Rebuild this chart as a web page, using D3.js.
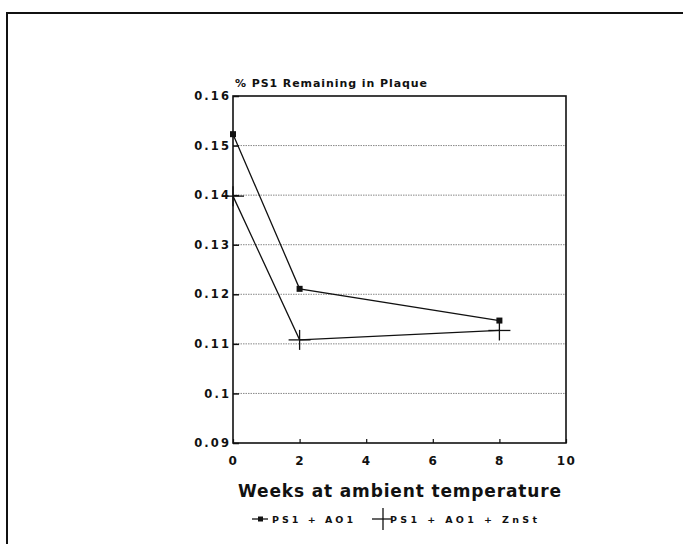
<!DOCTYPE html>
<html>
<head>
<meta charset="utf-8">
<script src="https://cdn.jsdelivr.net/npm/d3@7"></script>
<style>
  html, body { margin: 0; padding: 0; background: #fff; }
  svg { display: block; }
  text { font-family: "DejaVu Sans", "Liberation Sans", Arial, sans-serif; font-weight: bold; fill: #111; }
</style>
</head>
<body>
<svg id="chart" width="683" height="544"></svg>
<script>
// ---- data ----
const weeks = [0, 2, 8];
const seriesNames = ['PS1 + AO1', 'PS1 + AO1 + ZnSt'];
const ps1Ao1 = [0.1523, 0.1211, 0.1147];
const ps1Ao1ZnSt = [0.1398, 0.1108, 0.1127];
const xTicks = [0, 2, 4, 6, 8, 10];
const yTicks = [0.09, 0.1, 0.11, 0.12, 0.13, 0.14, 0.15, 0.16];

const svg = d3.select('#chart');
const m = { left: 233, right: 566, top: 96, bottom: 443 };

const x = d3.scaleLinear().domain([0, 10]).range([m.left, m.right]);
const y = d3.scaleLinear().domain([0.09, 0.16]).range([m.bottom, m.top]);

// outer frame (page scan border)
svg.append('path')
  .attr('d', 'M7,544 L7,13 L683,13')
  .attr('fill', 'none').attr('stroke', '#111').attr('stroke-width', 2);

// gridlines
svg.append('g')
  .selectAll('line')
  .data(yTicks.filter((t) => t > 0.095 && t < 0.155))
  .join('line')
  .attr('x1', m.left).attr('x2', m.right)
  .attr('y1', (d) => y(d)).attr('y2', (d) => y(d))
  .attr('stroke', '#888').attr('stroke-width', 1)
  .attr('stroke-dasharray', '1.5,1');

// y axis
const yAxis = svg.append('g')
  .attr('transform', `translate(${m.left},0)`)
  .call(d3.axisLeft(y).tickValues(yTicks).tickSize(-6).tickPadding(4)
    .tickFormat((d) => String(+d.toFixed(2))));
yAxis.select('.domain').remove();
yAxis.selectAll('line').attr('stroke', '#111').attr('stroke-width', 1.5);
yAxis.selectAll('text')
  .attr('font-size', 11.5).attr('letter-spacing', 2.1)
  .attr('fill', '#111').attr('dx', 2);

// x axis
const xAxis = svg.append('g')
  .attr('transform', `translate(0,${m.bottom})`)
  .call(d3.axisBottom(x).tickValues(xTicks).tickSize(-4).tickPadding(13));
xAxis.select('.domain').remove();
xAxis.selectAll('line').attr('stroke', '#111').attr('stroke-width', 1.2);
xAxis.selectAll('text')
  .attr('font-size', 12).attr('letter-spacing', 1.5).attr('fill', '#111');

// plot border
svg.append('rect')
  .attr('x', m.left).attr('y', m.top)
  .attr('width', m.right - m.left).attr('height', m.bottom - m.top)
  .attr('fill', 'none').attr('stroke', '#111').attr('stroke-width', 1.6);

// title
svg.append('text')
  .attr('x', 235).attr('y', 87)
  .attr('font-size', 11)
  .attr('textLength', 192).attr('lengthAdjust', 'spacing')
  .text('% PS1 Remaining in Plaque');

// x title
svg.append('text')
  .attr('x', 238).attr('y', 497)
  .attr('font-size', 17)
  .attr('textLength', 323).attr('lengthAdjust', 'spacing')
  .text('Weeks at ambient temperature');

// series lines
const line = d3.line().x((d, i) => x(weeks[i])).y((d) => y(d));
svg.append('path').datum(ps1Ao1).attr('d', line)
  .attr('fill', 'none').attr('stroke', '#111').attr('stroke-width', 1.3);
svg.append('path').datum(ps1Ao1ZnSt).attr('d', line)
  .attr('fill', 'none').attr('stroke', '#111').attr('stroke-width', 1.3);

// square markers
svg.append('g').selectAll('rect')
  .data(ps1Ao1)
  .join('rect')
  .attr('x', (d, i) => x(weeks[i]) - 3).attr('y', (d) => y(d) - 3)
  .attr('width', 6).attr('height', 6).attr('fill', '#111');

// cross markers
const cross = svg.append('g').selectAll('g')
  .data(ps1Ao1ZnSt)
  .join('g')
  .attr('transform', (d, i) => `translate(${x(weeks[i])},${y(d)})`);
cross.append('line').attr('x1', -11).attr('x2', 11)
  .attr('stroke', '#111').attr('stroke-width', 1.3);
cross.append('line').attr('y1', -10).attr('y2', 10)
  .attr('stroke', '#111').attr('stroke-width', 1.3);

// legend
const lg = svg.append('g');
lg.append('line').attr('x1', 252).attr('x2', 268).attr('y1', 519).attr('y2', 519)
  .attr('stroke', '#111').attr('stroke-width', 1.3);
lg.append('rect').attr('x', 258).attr('y', 516.5).attr('width', 5).attr('height', 5).attr('fill', '#111');
lg.append('text').attr('x', 272).attr('y', 523)
  .attr('font-size', 9.5)
  .attr('textLength', 81).attr('lengthAdjust', 'spacing')
  .text(seriesNames[0]);
lg.append('line').attr('x1', 372).attr('x2', 392).attr('y1', 519).attr('y2', 519)
  .attr('stroke', '#111').attr('stroke-width', 1.3);
lg.append('line').attr('x1', 383).attr('x2', 383).attr('y1', 508).attr('y2', 530)
  .attr('stroke', '#111').attr('stroke-width', 1.3);
lg.append('text').attr('x', 390).attr('y', 523)
  .attr('font-size', 9.5)
  .attr('textLength', 147).attr('lengthAdjust', 'spacing')
  .text(seriesNames[1]);
</script>
</body>
</html>
